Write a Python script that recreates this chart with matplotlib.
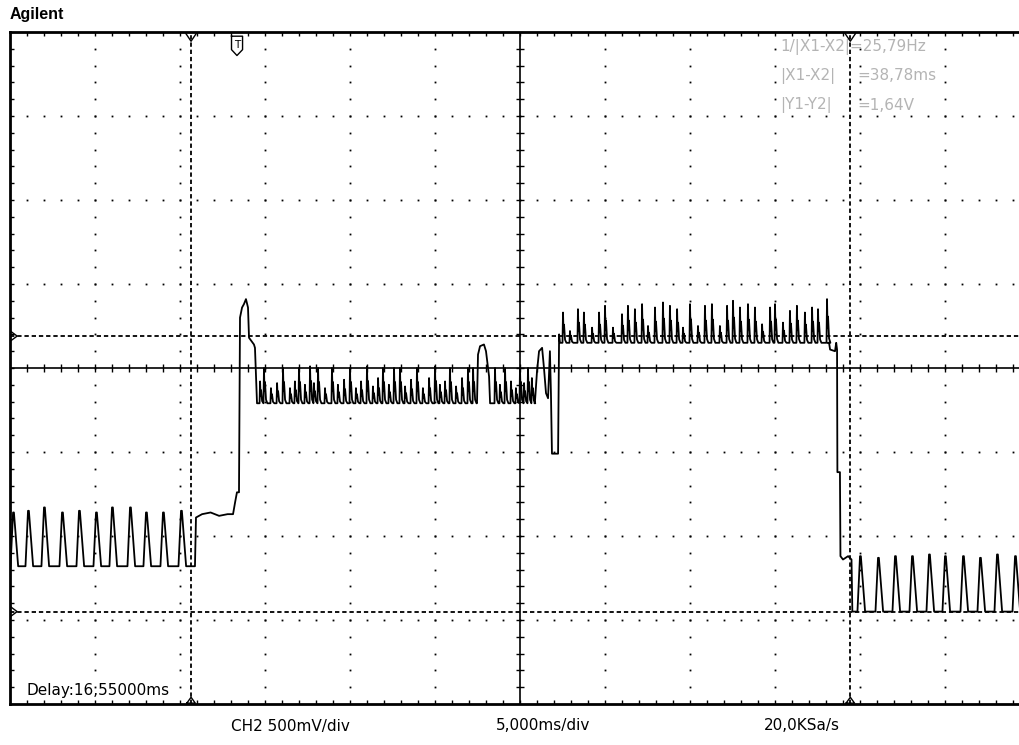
import numpy as np
import matplotlib.pyplot as plt

# cursors (ms, V)
x1_ms, x2_ms = 10.65, 49.43
y1_v, y2_v = 0.19, -1.45

# left pulse train (1 kHz)
left_base = -1.18
left_peak_t = [0.18, 1.06, 2.0, 3.06, 4.06, 5.06, 6.0, 7.06, 8.0, 9.0, 10.06]
left_peak_v = [-0.86, -0.85, -0.83, -0.86, -0.85, -0.86, -0.83, -0.83, -0.86, -0.86, -0.85]

# step up after X1
jump1_t = [10.88, 10.94, 11.3, 11.8, 12.3, 12.8, 13.12, 13.24, 13.35, 13.47, 13.53,
           13.65, 13.76, 13.88, 14.0, 14.06, 14.35, 14.41, 14.53]
jump1_v = [-1.18, -0.89, -0.87, -0.86, -0.88, -0.87, -0.87, -0.80, -0.74, -0.74, 0.30,
           0.36, 0.38, 0.41, 0.36, 0.18, 0.14, 0.12, -0.21]

# middle band
mid_base = -0.21
mid_t_a = [14.71, 14.94, 15.35, 15.71, 16.06, 16.47, 16.76, 17.0, 17.35, 17.65, 17.88,
           18.12, 18.53, 18.94, 19.29, 19.65, 20.0, 20.35, 20.65, 21.0, 21.35, 21.65,
           21.94, 22.29, 22.59, 22.94, 23.24, 23.59, 23.94, 24.29, 24.65, 25.0, 25.29,
           25.59, 25.88, 26.24, 26.59, 26.94, 27.24]
mid_v_a = [-0.08, 0.0, -0.12, -0.09, 0.0, -0.12, -0.08, 0.0, -0.1, 0.01, -0.09,
           0.0, -0.12, 0.0, -0.1, -0.07, 0.0, -0.12, -0.08, 0.01, -0.11, -0.06,
           0.0, -0.1, 0.0, 0.0, -0.11, -0.07, 0.0, -0.12, -0.06, 0.01, -0.1,
           -0.08, 0.0, -0.11, -0.06, 0.0, 0.0]
bump_t = [27.47, 27.53, 27.65, 27.88, 28.0, 28.18, 28.24]
bump_v = [-0.21, 0.08, 0.13, 0.14, 0.10, -0.05, -0.21]
mid_t_b = [28.53, 28.82, 29.12, 29.47, 29.76, 30.0, 30.24, 30.47, 30.7]
mid_v_b = [0.0, -0.1, 0.0, -0.08, -0.12, 0.0, -0.09, 0.0, -0.06]

# dip and step up to upper band
jump2_t = [30.88, 31.0, 31.12, 31.3, 31.41, 31.53, 31.65, 31.76, 31.82, 31.88, 32.24, 32.3, 32.35]
jump2_v = [-0.2, -0.02, 0.10, 0.12, 0.0, -0.15, -0.18, 0.10, -0.15, -0.51, -0.51, 0.20, 0.15]

# upper band
up_base = 0.15
up_t = [32.53, 32.94, 33.41, 33.76, 34.24, 34.65, 35.0, 35.47, 36.0, 36.35, 36.76, 37.18,
        37.53, 37.94, 38.41, 38.82, 39.24, 39.59, 40.0, 40.47, 40.88, 41.29, 41.76, 42.18,
        42.53, 42.94, 43.41, 43.82, 44.24, 44.71, 45.0, 45.47, 45.88, 46.29, 46.76, 47.18,
        47.53, 48.06]
up_v = [0.33, 0.22, 0.35, 0.33, 0.24, 0.33, 0.37, 0.24, 0.32, 0.37, 0.35, 0.38,
        0.25, 0.36, 0.39, 0.37, 0.35, 0.24, 0.38, 0.25, 0.37, 0.38, 0.25, 0.37,
        0.40, 0.36, 0.38, 0.36, 0.26, 0.36, 0.38, 0.27, 0.34, 0.37, 0.33, 0.36,
        0.35, 0.41]

# fall back down near X2
drop_t = [48.18, 48.24, 48.53, 48.6, 48.65, 48.67, 48.82, 48.85, 49.0, 49.3, 49.5, 49.55]
drop_v = [0.15, 0.11, 0.10, 0.15, 0.11, -0.62, -0.62, -1.12, -1.14, -1.12, -1.14, -1.45]

# right pulse train
right_base = -1.45
right_peak_t = [50.0, 51.06, 52.06, 53.06, 54.06, 55.0, 56.06, 57.06, 58.06, 59.12]
right_peak_v = [-1.12, -1.13, -1.12, -1.12, -1.11, -1.12, -1.12, -1.13, -1.11, -1.12]


def spikes(t0, t1, base, pt, pv, rise, fall, shoulder=False):
    ts, vs = [t0], [base]
    for t, v in zip(pt, pv):
        if shoulder:
            ts += [t - rise, t, t + 0.03, t + 0.06, t + fall * 0.6, t + fall]
            vs += [base, v, base + 0.35 * (v - base), base + 0.6 * (v - base),
                   base + 0.1 * (v - base), base]
        else:
            ts += [t - rise, t, t + 0.05, t + fall]
            vs += [base, v, v, base]
    ts.append(t1)
    vs.append(base)
    return ts, vs


parts = [
    spikes(0, 10.85, left_base, left_peak_t, left_peak_v, 0.15, 0.3),
    (jump1_t, jump1_v),
    spikes(14.55, 27.45, mid_base, mid_t_a, mid_v_a, 0.03, 0.2, True),
    (bump_t, bump_v),
    spikes(28.3, 30.85, mid_base, mid_t_b, mid_v_b, 0.03, 0.2, True),
    (jump2_t, jump2_v),
    spikes(32.4, 48.12, up_base, up_t, up_v, 0.03, 0.2, True),
    (drop_t, drop_v),
    spikes(49.6, 60, right_base, right_peak_t, right_peak_v, 0.15, 0.3),
]
trace_t = np.concatenate([p[0] for p in parts])
trace_v = np.concatenate([p[1] for p in parts])

W, H = 1019, 745
fig = plt.figure(figsize=(W / 100, H / 100), dpi=100)
ax = fig.add_axes([10 / W, 41 / H, 1020 / W, 672 / H])
ax.set_xlim(0, 60)
ax.set_ylim(-2, 2)
ax.set_xticks([])
ax.set_yticks([])
for s in ax.spines.values():
    s.set_linewidth(2)

tx = 4 / 17      # 4 px in ms
ty = 4 / 168     # 4 px in V
minor_t = np.arange(1, 60)
minor_v = np.round(np.arange(-1.9, 2.0, 0.1), 2)

# border ticks
ax.vlines(minor_t, 2 - ty, 2, color='black', lw=1)
ax.vlines(minor_t, -2, -2 + ty, color='black', lw=1)
ax.hlines(minor_v, 0, tx, color='black', lw=1)

# grid dots
for c in range(5, 60, 5):
    if c != 30:
        ax.plot(np.full(len(minor_v), c), minor_v, 's', ms=1.3, mew=0, color='black')
for r in [-1.5, -1.0, -0.5, 0.5, 1.0, 1.5]:
    ax.plot(minor_t, np.full(len(minor_t), r), 's', ms=1.3, mew=0, color='black')

# center crosshair
ax.axhline(0, color='black', lw=1.2)
ax.axvline(30, color='black', lw=1.2)
ax.vlines(minor_t, -ty, ty, color='black', lw=1)
ax.hlines(minor_v, 30 - tx, 30 + tx, color='black', lw=1)

# cursors
dash = (2.4, 1.6)
for xc in (x1_ms, x2_ms):
    ax.axvline(xc, color='black', lw=1.3, dashes=dash)
    ax.plot([xc - 0.3, xc, xc + 0.3], [1.99, 1.945, 1.99], color='black', lw=1)
    ax.plot([xc - 0.25, xc, xc + 0.25, xc - 0.25], [-1.995, -1.96, -1.995, -1.995],
            color='black', lw=1)
for yc in (y1_v, y2_v):
    ax.axhline(yc, color='black', lw=1.3, dashes=dash)
    ax.plot([0.02, 0.42, 0.02, 0.02], [yc + 0.03, yc, yc - 0.03, yc + 0.03],
            color='black', lw=1)

# trigger marker
ax.plot([13.03, 13.03, 13.35, 13.68, 13.68, 13.03],
        [1.975, 1.895, 1.86, 1.895, 1.975, 1.975], color='black', lw=1)
ax.text(13.35, 1.925, 'T', ha='center', va='center', fontsize=7.5)

# waveform
ax.plot(trace_t, trace_v, color='black', lw=1.3)

fs = 11
fig.text(10 / W, 1 - 14 / H, 'Agilent', fontsize=11.5, fontweight='bold',
         family='Liberation Sans', va='center')
grey = '#b4b4b4'
fig.text(780 / W, 1 - 47 / H, '1/|X1-X2|=25,79Hz', color=grey, fontsize=fs, va='center')
fig.text(780 / W, 1 - 76 / H, '|X1-X2|', color=grey, fontsize=fs, va='center')
fig.text(857 / W, 1 - 76 / H, '=38,78ms', color=grey, fontsize=fs, va='center')
fig.text(780 / W, 1 - 105 / H, '|Y1-Y2|', color=grey, fontsize=fs, va='center')
fig.text(857 / W, 1 - 105 / H, '=1,64V', color=grey, fontsize=fs, va='center')

fig.text(27 / W, 1 - 690 / H, 'Delay:16,55000ms', fontsize=fs, va='center')
fig.text(231 / W, 1 - 726 / H, 'CH2 500mV/div', fontsize=fs, va='center')
fig.text(496 / W, 1 - 726 / H, '5,000ms/div', fontsize=fs, va='center')
fig.text(764 / W, 1 - 726 / H, '20,0KSa/s', fontsize=fs, va='center')

fig.savefig('out.png', dpi=100)
